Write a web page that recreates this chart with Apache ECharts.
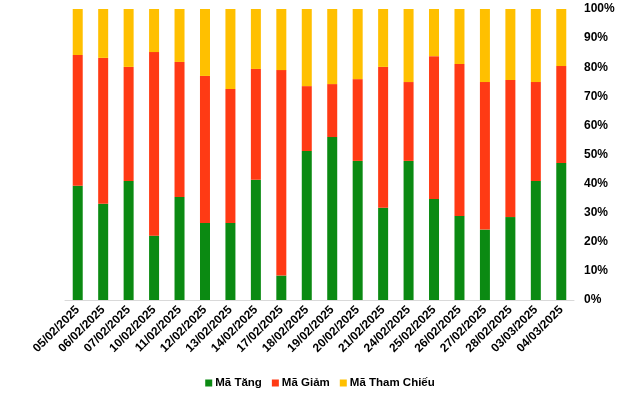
<!DOCTYPE html>
<html>
<head>
<meta charset="utf-8">
<script src="https://cdn.jsdelivr.net/npm/echarts@6/dist/echarts.min.js"></script>
<style>html,body{margin:0;padding:0;background:#fff;}#c{width:640px;height:393px;}</style>
</head>
<body>
<div id="c"></div>
<script>
const categories = ["05/02/2025","06/02/2025","07/02/2025","10/02/2025","11/02/2025","12/02/2025","13/02/2025","14/02/2025","17/02/2025","18/02/2025","19/02/2025","20/02/2025","21/02/2025","24/02/2025","25/02/2025","26/02/2025","27/02/2025","28/02/2025","03/03/2025","04/03/2025"];
const maTang = [39.3,33.1,40.9,22.1,35.4,26.5,26.5,41.3,8.4,51.2,56.0,47.8,31.7,47.8,34.7,28.9,24.2,28.5,40.9,47.1];
const maGiam = [44.9,50.1,39.2,63.1,46.4,50.5,46.0,38.1,70.6,22.3,18.2,28.1,48.4,27.1,49.1,52.2,50.7,47.1,34.0,33.3];
const maThamChieu = [15.8,16.8,19.9,14.8,18.2,23.0,27.5,20.6,21.0,26.5,25.8,24.1,19.9,25.1,16.2,18.9,25.1,24.4,25.1,19.6];
const yTicks = [0,10,20,30,40,50,60,70,80,90,100];

const chart = echarts.init(document.getElementById('c'), null, {renderer:'canvas'});
const font = 'Liberation Sans, Arial, sans-serif';
const mk = (name, data, color) => ({
  name, type:'bar', stack:'total', data, barWidth:10,
  itemStyle:{color}, emphasis:{disabled:true}
});
chart.setOption({
  animation:false,
  textStyle:{fontFamily:font},
  grid:{left:65, right:66, top:9, bottom:93, containLabel:false},
  legend:{
    bottom:-1, left:'center', icon:'rect', itemWidth:7, itemHeight:7, itemGap:10,
    textStyle:{fontFamily:font, fontSize:11.5, fontWeight:'bold', color:'#000', padding:[0,0,0,-2]},
    data:['Mã Tăng','Mã Giảm','Mã Tham Chiếu']
  },
  xAxis:{
    type:'category', data:categories,
    axisLine:{lineStyle:{color:'#d9d9d9', width:1}},
    axisTick:{show:false},
    axisLabel:{rotate:45, interval:0, margin:8, fontFamily:font, fontSize:12, fontWeight:'bold', color:'#000'}
  },
  yAxis:{
    type:'value', position:'right', min:0, max:100, interval:10,
    axisLine:{show:false}, axisTick:{show:false}, splitLine:{show:false},
    axisLabel:{margin:10, fontFamily:font, fontSize:12, fontWeight:'bold', color:'#000',
      formatter:v => yTicks.includes(v) ? v + '%' : ''}
  },
  series:[
    mk('Mã Tăng', maTang, '#0b8a12'),
    mk('Mã Giảm', maGiam, '#ff3a14'),
    mk('Mã Tham Chiếu', maThamChieu, '#ffc000')
  ]
});
</script>
</body>
</html>
